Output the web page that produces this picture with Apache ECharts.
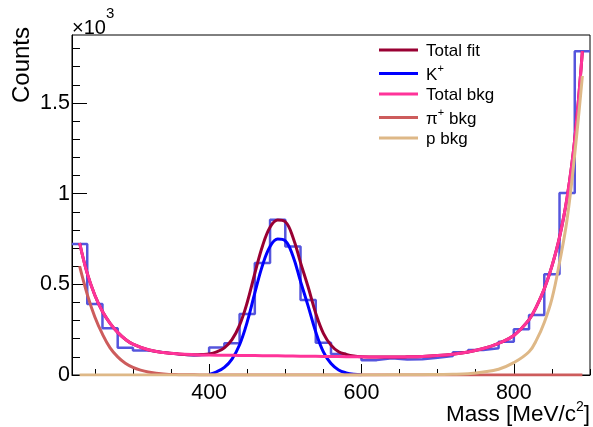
<!DOCTYPE html>
<html><head><meta charset="utf-8">
<script src="https://cdn.jsdelivr.net/npm/echarts@6/dist/echarts.min.js"></script>
<style>html,body{margin:0;padding:0;background:#fff}#c{width:593px;height:427px}</style>
</head><body><div id="c"></div>
<script>
// Histogram (20 MeV bins)
const binEdges = [220,240,260,280,300,320,340,360,380,400,420,440,460,480,500,520,540,560,580,600,620,640,660,680,700,720,740,760,780,800,820,840,860,880,900];
const histCounts = [722,392,258,150,135,125,115,108,112,151,175,337,617,856,709,414,178,116,100,82,92,85,87,95,105,125,138,148,184,252,331,556,1004,1786];

// Total fit
const fitMass = [230,240,250,260,270,280,290,300,320,340,360,380,390,400,410,420,430,440,450,460,470,480,490,500,510,520,530,540,550,560,570,580,590,600,620,640,660,680,700,720,740,760,780,800,820,830,840,850,860,870,880,890];
const fitCounts = [728,560,440,350,285,235,197,170,139,124,116,112,113,116,128,150,195,275,400,560,710,815,855,845,760,620,485,340,230,165,128,114,105,101,99,99,100,102,107,115,127,146,175,218,305,380,475,600,760,980,1300,1786];

// K+ signal
const kMass = [400,410,420,430,440,450,460,470,480,490,500,510,520,530,540,550,560,570,580,590,600];
const kCounts = [3,18,42,88,167,293,453,604,709,750,740,656,516,380,237,128,63,28,12,4,1];

// Total background
const bkgMass = [230,240,250,260,270,280,290,300,320,340,360,380,400,420,440,460,480,500,520,540,560,580,600,620,640,660,680,700,720,740,760,780,800,820,830,840,850,860,870,880,890];
const bkgCounts = [728,560,440,350,285,235,197,170,139,124,116,112,110,109,108,107,106,105,104,103,102,101,100,99,99,100,102,107,115,127,146,175,218,305,380,475,600,760,980,1300,1786];

// pi+ background
const piMass = [230,240,250,260,270,280,290,300,310,320,340,360,380,400,890];
const piCounts = [600,445,320,225,150,100,65,42,27,17,6,2,1,0,0];

// proton background
const pMass = [230,600,640,680,700,720,740,760,780,800,820,830,840,850,860,870,880,890];
const pCounts = [0,0,1,2,3,4,7,16,32,68,128,195,290,420,620,860,1220,1650];

const xMajor = [400,600,800];
const xMinor = [250,300,350,450,500,550,650,700,750,850,900];
const yMajor = [0,500,1000,1500];
const yMinor = [100,200,300,400,600,700,800,900,1100,1200,1300,1400,1600,1700,1800];
const legendNames = ['Total fit','K+','Total bkg','π+ bkg','p bkg'];

const pairs = (xs, ys) => xs.map((x, i) => [x, ys[i]]);
const histData = binEdges.map((e, i) => [e, histCounts[Math.min(i, histCounts.length - 1)]]);

const FONT = 'Liberation Sans';
const chart = echarts.init(document.getElementById('c'), null, {renderer: 'canvas'});

const curve = (name, color, data, w) => ({
  name, type: 'line', data, color, smooth: 0.4, symbol: 'none', showSymbol: false,
  lineStyle: {width: w, color}, z: 3
});

chart.setOption({
  animation: false,
  textStyle: {fontFamily: FONT},
  grid: {left: 72, right: 3, top: 35, bottom: 52, show: true, borderColor: '#000', borderWidth: 1,
         containLabel: false, outerBoundsMode: 'none'},
  xAxis: [
    {type: 'value', min: 220, max: 900, position: 'bottom',
     axisLine: {show: true, lineStyle: {color: '#000', width: 1}},
     axisTick: {show: true, inside: true, length: 11, customValues: xMajor, lineStyle: {color: '#000'}},
     axisLabel: {show: true, customValues: xMajor, fontSize: 21.5, color: '#000', margin: 7, fontFamily: FONT},
     splitLine: {show: false}},
    {type: 'value', min: 220, max: 900, position: 'bottom',
     axisLine: {show: false},
     axisTick: {show: true, inside: true, length: 6, customValues: xMinor, lineStyle: {color: '#000'}},
     axisLabel: {show: false}, splitLine: {show: false}}
  ],
  yAxis: [
    {type: 'value', min: 0, max: 1875, position: 'left',
     axisLine: {show: true, lineStyle: {color: '#000', width: 1}},
     axisTick: {show: true, inside: true, length: 15, customValues: yMajor, lineStyle: {color: '#000'}},
     axisLabel: {show: true, customValues: yMajor, formatter: v => String(v / 1000), fontSize: 21.5, color: '#000', margin: 2, fontFamily: FONT},
     splitLine: {show: false}},
    {type: 'value', min: 0, max: 1875, position: 'left',
     axisLine: {show: false},
     axisTick: {show: true, inside: true, length: 8, customValues: yMinor, lineStyle: {color: '#000'}},
     axisLabel: {show: false}, splitLine: {show: false}}
  ],
  legend: {
    orient: 'vertical', left: 379, top: 43, padding: 0, itemWidth: 39, itemHeight: 3, itemGap: 3.5,
    icon: 'rect', data: legendNames,
    formatter: name => {
      if (name === 'K+') return '{g| }{n|K}{s|+}';
      if (name === 'π+ bkg') return '{g| }{n|π}{s|+}{n| bkg}';
      return '{g| }{n|' + name + '}';
    },
    textStyle: {color: '#000', fontFamily: FONT, rich: {
      g: {fontSize: 11, lineHeight: 20, verticalAlign: 'bottom'},
      n: {fontSize: 17, lineHeight: 20, color: '#000', fontFamily: FONT, verticalAlign: 'bottom'},
      s: {fontSize: 11, lineHeight: 7, color: '#000', fontFamily: FONT, verticalAlign: 'top'}
    }}
  },
  graphic: [
    {type: 'text', x: 22, y: 27, rotation: Math.PI / 2, z: 10,
     style: {text: 'Counts', font: '24px "Liberation Sans"', fill: '#000', align: 'right', verticalAlign: 'middle'}},
    {type: 'text', x: 72, y: 22.5, z: 10,
     style: {text: '{n|×10}{s|3}', fill: '#000', align: 'left', verticalAlign: 'middle',
       rich: {n: {fontSize: 20, lineHeight: 32, fontFamily: FONT, fill: '#000', verticalAlign: 'bottom'},
              s: {fontSize: 15, lineHeight: 14, fontFamily: FONT, fill: '#000', verticalAlign: 'top'}}}},
    {type: 'text', x: 590, y: 413.5, z: 10,
     style: {text: '{n|Mass [MeV/c}{s|2}{n|]}', fill: '#000', align: 'right', verticalAlign: 'middle',
       rich: {n: {fontSize: 22.5, lineHeight: 26, fontFamily: FONT, fill: '#000', verticalAlign: 'bottom'},
              s: {fontSize: 14, lineHeight: 16, fontFamily: FONT, fill: '#000', verticalAlign: 'top'}}}}
  ],
  series: [
    {name: 'Data', type: 'line', data: histData, step: 'end', symbol: 'none', showSymbol: false,
     color: '#5555dd', lineStyle: {width: 2.5, color: '#5555dd'}, z: 2},
    curve('Total fit', '#990033', pairs(fitMass, fitCounts), 3),
    curve('K+', '#0000ff', pairs(kMass, kCounts), 3),
    curve('Total bkg', '#ff3399', pairs(bkgMass, bkgCounts), 3),
    curve('π+ bkg', '#cd5c5c', pairs(piMass, piCounts), 3),
    curve('p bkg', '#deb887', pairs(pMass, pCounts), 3)
  ]
});
</script></body></html>
